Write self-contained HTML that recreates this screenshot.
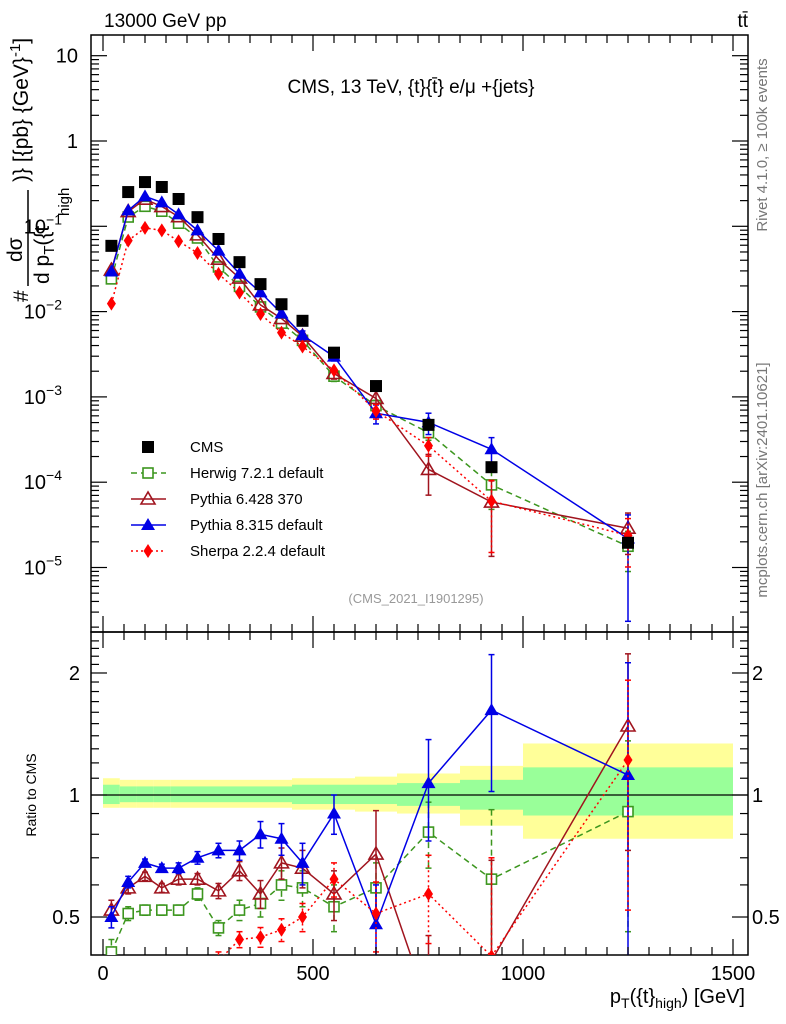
<!DOCTYPE html>
<html><head><meta charset="utf-8">
<style>
html,body{margin:0;background:#fff;width:786px;height:1024px;overflow:hidden;}
svg{display:block;font-family:"Liberation Sans",sans-serif;}
</style></head>
<body>
<svg id="c" width="786" height="1024" viewBox="0 0 786 1024" xmlns="http://www.w3.org/2000/svg">
<defs>
<clipPath id="cpMain"><rect x="91" y="35" width="657" height="597"/></clipPath>
<clipPath id="cpRat"><rect x="91" y="632" width="657" height="323"/></clipPath>
</defs>
<g id="bands" clip-path="url(#cpRat)"></g>
<g id="grid"></g>
<rect x="91" y="35" width="657" height="597" fill="none" stroke="#000" stroke-width="1.5"/>
<rect x="91" y="632" width="657" height="323" fill="none" stroke="#000" stroke-width="1.5"/>
<g id="mainMarks" clip-path="url(#cpMain)"></g>
<g id="ratMarks" clip-path="url(#cpRat)"></g>
<g id="ticks"></g>
<text x="104" y="27" font-size="19">13000 GeV pp</text>
<text x="748" y="27" font-size="19" text-anchor="end">tt̄</text>
<text x="411" y="93" font-size="19" text-anchor="middle">CMS, 13 TeV, {t}{t̄} e/μ +{jets}</text>
<text x="416" y="603" font-size="13" fill="#999" text-anchor="middle">(CMS_2021_I1901295)</text>
<text transform="translate(767,145) rotate(-90)" font-size="15" fill="#777" text-anchor="middle">Rivet 4.1.0, ≥ 100k events</text>
<text transform="translate(767,480) rotate(-90)" font-size="15" fill="#777" text-anchor="middle">mcplots.cern.ch [arXiv:2401.10621]</text>
<g transform="translate(28,302) rotate(-90)">
<text x="0" y="0" font-size="21">#</text>
<text x="40" y="-6" font-size="21">dσ</text>
<line x1="16" y1="0" x2="112" y2="0" stroke="#000" stroke-width="1.5"/>
<text x="18" y="21" font-size="21">d p<tspan font-size="15" dy="5">T</tspan><tspan dy="-5">({t</tspan></text>
<text x="86" y="41" font-size="15">high</text>
<text x="120" y="0" font-size="21">)} [{pb} {GeV}<tspan font-size="15" dy="-8">-1</tspan><tspan dy="8">]</tspan></text>
</g>
<text transform="translate(36,795) rotate(-90)" font-size="14" text-anchor="middle">Ratio to CMS</text>
<text x="745" y="1003" font-size="20" text-anchor="end">p<tspan font-size="14" dy="5">T</tspan><tspan dy="-5">({t}</tspan><tspan font-size="14" dy="5">high</tspan><tspan dy="-5">) [GeV]</tspan></text>
<g id="legend"></g>
</svg>
<script>
// ---- data ----
const binCenters=[20,60,100,140,180,225,275,325,375,425,475,550,650,775,925,1250];
const binEdges=[0,40,80,120,160,200,250,300,350,400,450,500,600,700,850,1000,1500];
const cmsValues=[0.059,0.252,0.33,0.289,0.209,0.128,0.071,0.038,0.021,0.0122,0.0078,0.0033,0.00134,0.00047,0.000150,0.0000195];
const bandYellowUp=[0.10,0.09,0.09,0.09,0.09,0.09,0.09,0.09,0.09,0.09,0.10,0.10,0.11,0.13,0.18,0.34];
const bandYellowDn=[0.07,0.07,0.07,0.07,0.07,0.07,0.07,0.07,0.07,0.07,0.08,0.08,0.09,0.10,0.16,0.22];
const bandGreenUp=[0.06,0.05,0.05,0.05,0.05,0.05,0.05,0.05,0.05,0.05,0.06,0.06,0.06,0.07,0.09,0.17];
const bandGreenDn=[0.05,0.04,0.04,0.04,0.04,0.04,0.04,0.04,0.04,0.04,0.05,0.05,0.05,0.06,0.08,0.11];
const herwigRatio=[0.41,0.51,0.52,0.52,0.52,0.57,0.47,0.52,0.54,0.60,0.59,0.53,0.59,0.81,0.62,0.91];
const herwigErr=[0.03,0.02,0.015,0.015,0.015,0.02,0.02,0.03,0.04,0.05,0.06,0.07,0.09,0.15,0.3,0.45];
const pythia6Ratio=[0.52,0.59,0.63,0.59,0.62,0.62,0.58,0.65,0.57,0.68,0.66,0.57,0.715,0.30,0.39,1.48];
const pythia6Err=[0.03,0.02,0.015,0.015,0.02,0.02,0.025,0.035,0.045,0.06,0.07,0.08,0.2,0.15,0.3,0.75];
const pythia8Ratio=[0.50,0.61,0.68,0.66,0.66,0.70,0.73,0.73,0.80,0.78,0.68,0.90,0.48,1.07,1.62,1.12];
const pythia8Err=[0.03,0.02,0.015,0.015,0.02,0.025,0.03,0.04,0.06,0.07,0.08,0.1,0.12,0.3,0.6,1.0];
const sherpaRatio=[0.21,0.27,0.29,0.31,0.32,0.38,0.39,0.44,0.446,0.465,0.50,0.62,0.51,0.57,0.40,1.22];
const sherpaErr=[0.02,0.015,0.01,0.01,0.015,0.015,0.02,0.02,0.025,0.03,0.04,0.06,0.1,0.14,0.3,0.7];
const yTickExps=[1,0,-1,-2,-3,-4,-5];
const yTickLabels=["10","1","10","10","10","10","10"];
const yTickSup=["","","−1","−2","−3","−4","−5"];
const rTicks=[2,1,0.5];
const xTicks=[0,500,1000,1500];
// ---- axes ----
const X=v=>103+v*0.42;
const Y=v=>141-85.3*Math.log10(v);
const R=v=>795-405.3*Math.log10(v);
const NS="http://www.w3.org/2000/svg";
function mk(tag,attrs,parent){const e=document.createElementNS(NS,tag);for(const k in attrs)e.setAttribute(k,attrs[k]);parent.appendChild(e);return e;}
const bands=document.getElementById('bands'),ticks=document.getElementById('ticks');
const mainG=document.getElementById('mainMarks'),ratG=document.getElementById('ratMarks'),leg=document.getElementById('legend');
for(let i=0;i<binCenters.length;i++){
 const x0=X(binEdges[i]),x1=X(binEdges[i+1]);
 const y=mk('rect',{x:x0,y:R(1+bandYellowUp[i]),width:x1-x0,height:R(1-bandYellowDn[i])-R(1+bandYellowUp[i]),fill:'#ffff99'},bands);
 
 
 const g=mk('rect',{x:x0,y:R(1+bandGreenUp[i]),width:x1-x0,height:R(1-bandGreenDn[i])-R(1+bandGreenUp[i]),fill:'#99ff99'},bands);
 
 
}
mk('line',{x1:91,x2:748,y1:R(1),y2:R(1),stroke:'#000','stroke-width':1.2},bands);
for(let e=-6;e<=1;e++){for(let m=1;m<10;m++){const v=m*Math.pow(10,e);const y=Y(v);if(y<35||y>632)continue;const L=m==1?16:8;
 mk('line',{x1:91,x2:91+L,y1:y,y2:y,stroke:'#000','stroke-width':1.2},ticks);
 mk('line',{x1:748,x2:748-L,y1:y,y2:y,stroke:'#000','stroke-width':1.2},ticks);}}
yTickExps.forEach((e,i)=>{const t=mk('text',{x:78,y:Y(Math.pow(10,e))+7,'font-size':20,'text-anchor':'end'},ticks);
 t.textContent=yTickLabels[i];
 if(yTickSup[i]){t.setAttribute('x',62);const s=mk('tspan',{'font-size':14,dy:-9},t);s.textContent=yTickSup[i];}
 
 });
for(let v=0.4;v<=2.5;v+=0.1){const y=R(v);if(y<632||y>955)continue;const maj=Math.abs(v-1)<1e-6||Math.abs(v-2)<1e-6||Math.abs(v-0.5)<1e-6;const L=maj?16:8;
 mk('line',{x1:91,x2:91+L,y1:y,y2:y,stroke:'#000','stroke-width':1.2},ticks);
 mk('line',{x1:748,x2:748-L,y1:y,y2:y,stroke:'#000','stroke-width':1.2},ticks);}
rTicks.forEach(v=>{
 const a=mk('text',{x:80,y:R(v)+7,'font-size':20,'text-anchor':'end'},ticks);a.textContent=v;
 
 
 const b=mk('text',{x:752,y:R(v)+7,'font-size':20},ticks);b.textContent=v;
 
 });
for(let v=0;v<=1550;v+=50){const x=X(v);if(x>748)continue;const L=v%500==0?16:8;
 [[632,-1],[955,-1],[35,1],[632,1]].forEach(([y0,d])=>mk('line',{x1:x,x2:x,y1:y0,y2:y0+d*L,stroke:'#000','stroke-width':1.2},ticks));}
xTicks.forEach(v=>{const t=mk('text',{x:X(v),y:980,'font-size':20,'text-anchor':'middle'},ticks);t.textContent=v;
 
 });
function marker(type,color,x,y,parent){
 if(type=='sq')return mk('rect',{x:x-6,y:y-6,width:12,height:12,fill:color},parent);
 if(type=='osq')return mk('rect',{x:x-5,y:y-5,width:10,height:10,fill:'#fff',stroke:color,'stroke-width':1.6},parent);
 if(type=='otri')return mk('polygon',{points:`${x},${y-7} ${x-7},${y+5} ${x+7},${y+5}`,fill:'none',stroke:color,'stroke-width':1.6},parent);
 if(type=='tri')return mk('polygon',{points:`${x},${y-7} ${x-7},${y+5} ${x+7},${y+5}`,fill:color},parent);
 if(type=='dia')return mk('polygon',{points:`${x},${y-7} ${x-4.5},${y} ${x},${y+7} ${x+4.5},${y}`,fill:color},parent);
}
const series=[
 {name:'herwig',ratio:herwigRatio,err:herwigErr,color:'#3c961e',m:'osq',dash:'6,4',label:'Herwig 7.2.1 default'},
 {name:'pythia6',ratio:pythia6Ratio,err:pythia6Err,color:'#a0141e',m:'otri',dash:'',label:'Pythia 6.428 370'},
 {name:'pythia8',ratio:pythia8Ratio,err:pythia8Err,color:'#0000e6',m:'tri',dash:'',label:'Pythia 8.315 default'},
 {name:'sherpa',ratio:sherpaRatio,err:sherpaErr,color:'#ff0000',m:'dia',dash:'2,3',label:'Sherpa 2.2.4 default'}];
series.forEach(s=>{
 const mainPts=binCenters.map((c,i)=>[X(c),Y(cmsValues[i]*s.ratio[i])]);
 const ratPts=binCenters.map((c,i)=>[X(c),R(s.ratio[i])]);
 const l1=mk('polyline',{points:mainPts.map(p=>p.join(',')).join(' '),fill:'none',stroke:s.color,'stroke-width':1.5,'stroke-dasharray':s.dash},mainG);
 
 
 const l2=mk('polyline',{points:ratPts.map(p=>p.join(',')).join(' '),fill:'none',stroke:s.color,'stroke-width':1.5,'stroke-dasharray':s.dash},ratG);
 
 
 binCenters.forEach((c,i)=>{
  const x=X(c),r=s.ratio[i],e=s.err[i],v=cmsValues[i];
  const yu=R(r+e),yd=R(Math.max(r-e,0.01));
  mk('line',{x1:x,x2:x,y1:yu,y2:yd,stroke:s.color,'stroke-width':1.5,'stroke-dasharray':s.dash},ratG);
  mk('line',{x1:x-3,x2:x+3,y1:yu,y2:yu,stroke:s.color,'stroke-width':1.5},ratG);
  mk('line',{x1:x-3,x2:x+3,y1:yd,y2:yd,stroke:s.color,'stroke-width':1.5},ratG);
  const mu=Y(v*(r+e)),md=Y(Math.max(v*(r-e),1e-7));
  if(md-mu>8){mk('line',{x1:x,x2:x,y1:mu,y2:md,stroke:s.color,'stroke-width':1.5,'stroke-dasharray':s.dash},mainG);
   mk('line',{x1:x-3,x2:x+3,y1:mu,y2:mu,stroke:s.color,'stroke-width':1.5},mainG);
   mk('line',{x1:x-3,x2:x+3,y1:md,y2:md,stroke:s.color,'stroke-width':1.5},mainG);}
  const a=marker(s.m,s.color,x,Y(v*r),mainG);
  
  
  const b=marker(s.m,s.color,x,R(r),ratG);
  
  
 });
});
binCenters.forEach((c,i)=>{const p=marker('sq','#000',X(c),Y(cmsValues[i]),mainG);
 
 });
const legRows=[{m:'sq',color:'#000',dash:null,label:'CMS'}].concat(series.map(s=>({m:s.m,color:s.color,dash:s.dash,label:s.label})));
legRows.forEach((r,i)=>{const y=447+i*26;
 if(r.dash!==null)mk('line',{x1:131,x2:166,y1:y,y2:y,stroke:r.color,'stroke-width':1.5,'stroke-dasharray':r.dash},leg);
 marker(r.m,r.color,148,y,leg);
 const t=mk('text',{x:190,y:y+5,'font-size':15},leg);t.textContent=r.label;
 
 });
</script>
</body></html>
